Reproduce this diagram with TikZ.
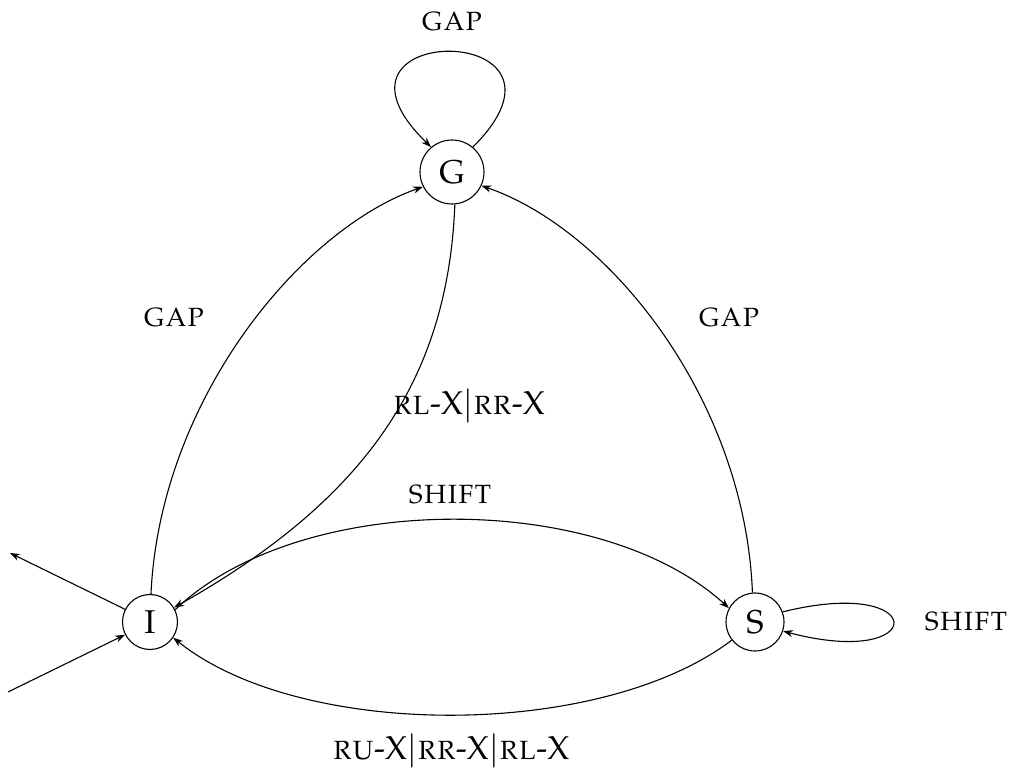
\documentclass[tikz,border=0pt]{standalone}
\usepackage[T1]{fontenc}
\usepackage{mathpazo}
\usetikzlibrary{arrows.meta}
\begin{document}
\begin{tikzpicture}[x=0.364pt,y=-0.364pt,
  statenode/.style={draw,circle,inner sep=0pt,font=\large,line width=0.4pt},
  lbl/.style={font=\large,inner sep=0pt},
  arr/.style={-{Stealth[length=3.6pt,width=2.6pt]},line width=0.4pt}]
\useasboundingbox (0,0) rectangle (1011,774);
\node[statenode,minimum size=64*0.364pt] (G) at (452,172) {G};
\node[statenode,minimum size=55*0.364pt] (I) at (150,622) {I};
\node[statenode,minimum size=58*0.364pt] (S) at (755,622) {S};
\coordinate (in) at (8,692);
\coordinate (out) at (10,553);
% labels
\node[lbl] (lg) at (452,22) {\textsc{gap}};
\node[lbl] (lig) at (174,318) {\textsc{gap}};
\node[lbl] (lsg) at (729,318) {\textsc{gap}};
\node[lbl] (lgi) at (469,406) {\textsc{rl}-X$|$\textsc{rr}-X};
\node[lbl] (lis) at (450,495) {\textsc{shift}};
\node[lbl] (lss) at (966,622) {\textsc{shift}};
\node[lbl] (lsi) at (451,751) {\textsc{ru}-X$|$\textsc{rr}-X$|$\textsc{rl}-X};
% edges
\draw[arr] (G.50) .. controls (600,20) and (300,20) .. (G.130);
\draw[arr] (I.88) .. controls (160,400) and (300,230) .. (G.207);
\draw[arr] (S.95) .. controls (745,400) and (610,230) .. (G.335);
\draw[arr] (G.275) .. controls (448,380) and (365,500) .. (I.31);
\draw[arr] (I.26) .. controls (300,490) and (600,490) .. (S.152);
\draw[arr] (S.218) .. controls (600,740) and (300,740) .. (I.326);
\draw[arr] (S.20) .. controls (930,575) and (930,670) .. (S.-18);
\draw[arr] (in) -- (I.207);
\draw[arr] (I.153) -- (out);
\end{tikzpicture}
\end{document}
